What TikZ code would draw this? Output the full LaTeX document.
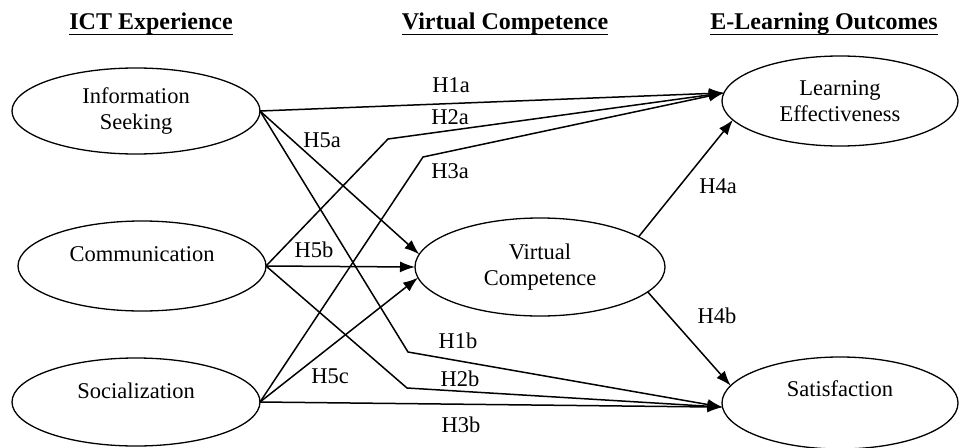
\documentclass[tikz,border=0pt]{standalone}
\usepackage{fontspec}
\setmainfont{Liberation Serif}
\usetikzlibrary{shapes.geometric,arrows.meta}
\begin{document}
\begin{tikzpicture}[x=1pt,y=-1pt,
  ell/.style={draw, ellipse, line width=1.3pt, inner sep=0pt, outer sep=0pt,
    font=\fontsize{22.5}{26}\selectfont, align=center},
  hdr/.style={font=\fontsize{24}{28}\selectfont\bfseries, inner sep=0pt, anchor=base},
  uline/.style={line width=1.6pt},
  lbl/.style={font=\fontsize{22.5}{26}\selectfont, inner sep=0pt},
  arr/.style={line width=1.5pt, -{Latex[length=15pt,width=11pt]}}]
\useasboundingbox (0,0) rectangle (963,447);
% headers
\node[hdr] (h1) at (151,29) {ICT Experience};
\node[hdr] (h2) at (505,29) {Virtual Competence};
\node[hdr] (h3) at (824,29) {E-Learning Outcomes};
\draw[uline] (h1.south west) -- (h1.south east);
\draw[uline] (h2.south west) -- (h2.south east);
\draw[uline] (h3.south west) -- (h3.south east);
% ellipses
\node[ell, minimum width=248pt, minimum height=86pt] (is) at (136,111) {Information\\Seeking};
\node[ell, minimum width=248pt, minimum height=90pt, text depth=23pt] (com) at (142,266) {Communication};
\node[ell, minimum width=248pt, minimum height=88pt, text depth=23pt] (soc) at (136,402) {Socialization};
\node[ell, minimum width=250pt, minimum height=98pt] (vc) at (540,267) {Virtual\\Competence};
\node[ell, minimum width=236pt, minimum height=90pt] (le) at (840,101) {Learning\\Effectiveness};
\node[ell, minimum width=236pt, minimum height=92pt, text depth=29pt] (sat) at (840,403) {Satisfaction};
% bends
\coordinate (b2a) at (388,139);
\coordinate (b3a) at (423,157);
\coordinate (b1b) at (408,352);
\coordinate (b2b) at (407,388);
% connectors
\draw[arr] (is.east) -- (le.176);
\draw[arr] (com.east) -- (b2a) -- (le.176);
\draw[arr] (soc.east) -- (b3a) -- (le.176);
\draw[arr] (is.east) -- (vc.174);
\draw[arr] (com.east) -- (vc.west);
\draw[arr] (soc.east) -- (vc.185);
\draw[arr] (is.east) -- (b1b) -- (sat.182);
\draw[arr] (com.east) -- (b2b) -- (sat.182);
\draw[arr] (soc.east) -- (sat.182);
\draw[arr] (vc.17) -- (le.190);
\draw[arr] (vc.347) -- (sat.171);
% labels
\node[lbl] (l1a) at (451,85) {H1a};
\node[lbl] (l2a) at (450,117) {H2a};
\node[lbl] (l3a) at (450,171) {H3a};
\node[lbl] (l5a) at (322,140) {H5a};
\node[lbl] (l5b) at (314,250) {H5b};
\node[lbl] (l5c) at (330,376) {H5c};
\node[lbl] (l1b) at (458,341) {H1b};
\node[lbl] (l2b) at (460,379) {H2b};
\node[lbl] (l3b) at (461,425) {H3b};
\node[lbl] (l4a) at (718,186) {H4a};
\node[lbl] (l4b) at (717,316) {H4b};
\end{tikzpicture}
\end{document}
